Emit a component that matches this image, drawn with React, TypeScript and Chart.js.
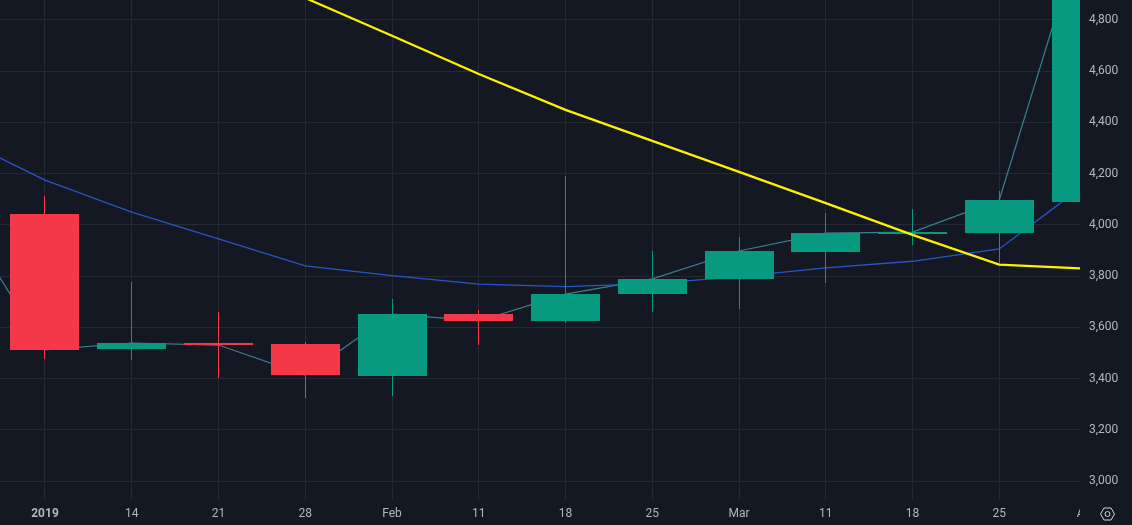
import React, { useEffect, useRef } from "react";
import { Chart, registerables } from "chart.js";

Chart.register(...registerables);

const tickLabels = ["2019", "14", "21", "28", "Feb", "11", "18", "25", "Mar", "11", "18", "25", "Apr"];
const weekIndex = [0, 1, 2, 3, 4, 5, 6, 7, 8, 9, 10, 11, 12];

const opens = [4043, 3515, 3539, 3535, 3410, 3652, 3625, 3730, 3789, 3894, 3964, 3968, 4089];
const closes = [3512, 3539, 3531, 3414, 3652, 3625, 3730, 3789, 3898, 3968, 3972, 4097, 5198];
const highs = [4113, 3777, 3660, 3543, 3711, 3668, 4191, 3899, 3953, 4046, 4062, 4132, 5260];
const lows = [3476, 3472, 3402, 3324, 3332, 3530, 3617, 3661, 3672, 3774, 3922, 3851, 4089];

const closeLineIndex = [-1, ...weekIndex];
const closeLine = [4054, ...closes];

const blueIndex = [-1, 0, 1, 2, 3, 4, 5, 6, 7, 8, 9, 10, 11, 12];
const blueLine = [4341, 4175, 4050, 3945, 3840, 3802, 3769, 3759, 3771, 3798, 3832, 3858, 3906, 4160];

const yellowIndex = [3, 4, 5, 6, 7, 8, 9, 10, 11, 12];
const yellowLine = [4886, 4738, 4589, 4449, 4328, 4207, 4085, 3961, 3845, 3829];

const BG = "#141823";
const GRID = "#252933";
const TEXT = "#b2b5be";
const UP = "#089a81";
const DOWN = "#f5374a";

const pairs = (xs: number[], ys: number[]) => xs.map((x, i) => ({ x, y: ys[i] }));
const candleColors = weekIndex.map((i) => (closes[i] >= opens[i] ? UP : DOWN));

const crispBars = {
  id: "crispBars",
  afterDatasetUpdate(_chart: any, args: any) {
    if (args.meta.type !== "bar") return;
    args.meta.data.forEach((el: any) => {
      el.x = Math.floor(el.x) + 0.5;
      el.y = Math.round(el.y);
      el.base = Math.round(el.base);
    });
  },
};

const rightMask = {
  id: "rightMask",
  beforeDatasetsDraw(chart: any) {
    const { ctx, chartArea, width, height } = chart;
    ctx.save();
    ctx.fillStyle = BG;
    ctx.fillRect(chartArea.right, 0, width - chartArea.right, height);
    ctx.restore();
  },
};

const settingsIcon = {
  id: "settingsIcon",
  afterDraw(chart: any) {
    const { ctx } = chart;
    const cx = 1107.5;
    const cy = 514;
    ctx.save();
    ctx.strokeStyle = "#d1d4dc";
    ctx.lineWidth = 1;
    ctx.beginPath();
    const pts: [number, number][] = [
      [-7, 0],
      [-3.5, -6],
      [3.5, -6],
      [7, 0],
      [3.5, 6],
      [-3.5, 6],
    ];
    pts.forEach(([dx, dy], i) => (i ? ctx.lineTo(cx + dx, cy + dy) : ctx.moveTo(cx + dx, cy + dy)));
    ctx.closePath();
    ctx.stroke();
    ctx.beginPath();
    ctx.arc(cx, cy, 2.5, 0, Math.PI * 2);
    ctx.stroke();
    ctx.restore();
  },
};

const noPadding = (scale: any) => {
  scale.paddingTop = 0;
  scale.paddingBottom = 0;
  scale.paddingLeft = 0;
  scale.paddingRight = 0;
};

export default function App() {
  const ref = useRef<HTMLCanvasElement>(null);

  useEffect(() => {
    document.body.style.margin = "0";
    document.body.style.background = BG;
    const chart = new Chart(ref.current as HTMLCanvasElement, {
      type: "bar",
      data: {
        datasets: [
          {
            type: "line",
            data: pairs(yellowIndex, yellowLine),
            borderColor: "#fff200",
            borderWidth: 2.2,
            pointRadius: 0,
            tension: 0,
            order: 1,
          },
          {
            type: "bar",
            data: weekIndex.map((i) => ({ x: i, y: [opens[i], closes[i]] })),
            backgroundColor: candleColors,
            barThickness: 69,
            inflateAmount: 0,
            grouped: false,
            order: 2,
          },
          {
            type: "bar",
            data: weekIndex.map((i) => ({ x: i, y: [lows[i], highs[i]] })),
            backgroundColor: candleColors,
            barThickness: 1,
            inflateAmount: 0,
            grouped: false,
            order: 3,
          },
          {
            type: "line",
            data: pairs(blueIndex, blueLine),
            borderColor: "#2a55c4",
            borderWidth: 1.3,
            pointRadius: 0,
            tension: 0,
            order: 4,
          },
          {
            type: "line",
            data: pairs(closeLineIndex, closeLine),
            borderColor: "#3d7f97",
            borderWidth: 1.2,
            pointRadius: 0,
            tension: 0,
            order: 5,
          },
        ] as any,
      },
      options: {
        responsive: false,
        animation: false,
        events: [],
        layout: { padding: 0 },
        plugins: { legend: { display: false }, title: { display: false }, tooltip: { enabled: false } },
        scales: {
          x: {
            type: "linear",
            offset: false,
            min: -0.5187,
            max: 11.9307,
            afterFit(scale: any) {
              scale.height = 25;
              noPadding(scale);
            },
            afterBuildTicks(scale: any) {
              scale.ticks = weekIndex.map((value) => ({ value }));
            },
            grid: { color: GRID, drawTicks: false, lineWidth: 1, offset: false },
            border: { display: false },
            ticks: {
              autoSkip: false,
              maxRotation: 0,
              padding: 7,
              color: TEXT,
              font: (c: any) => ({ family: "Roboto", size: 12, weight: c.index === 0 ? "bold" : "normal" }),
              callback: (_v: any, i: number) => tickLabels[i],
            },
          },
          y: {
            position: "right",
            min: 2926,
            max: 4878,
            afterFit(scale: any) {
              scale.width = 52;
              noPadding(scale);
            },
            grid: { color: GRID, drawTicks: false, lineWidth: 1 },
            border: { display: false },
            ticks: {
              stepSize: 200,
              includeBounds: false,
              padding: 9,
              z: 1,
              color: TEXT,
              font: { family: "Roboto", size: 12 },
              callback: (v: any) => Number(v).toLocaleString("en-US"),
            },
          },
        },
      } as any,
      plugins: [crispBars, rightMask, settingsIcon],
    });
    return () => chart.destroy();
  }, []);

  return (
    <div style={{ width: 1132, height: 525, background: BG }}>
      <canvas ref={ref} width={1132} height={525} style={{ display: "block" }} />
    </div>
  );
}
